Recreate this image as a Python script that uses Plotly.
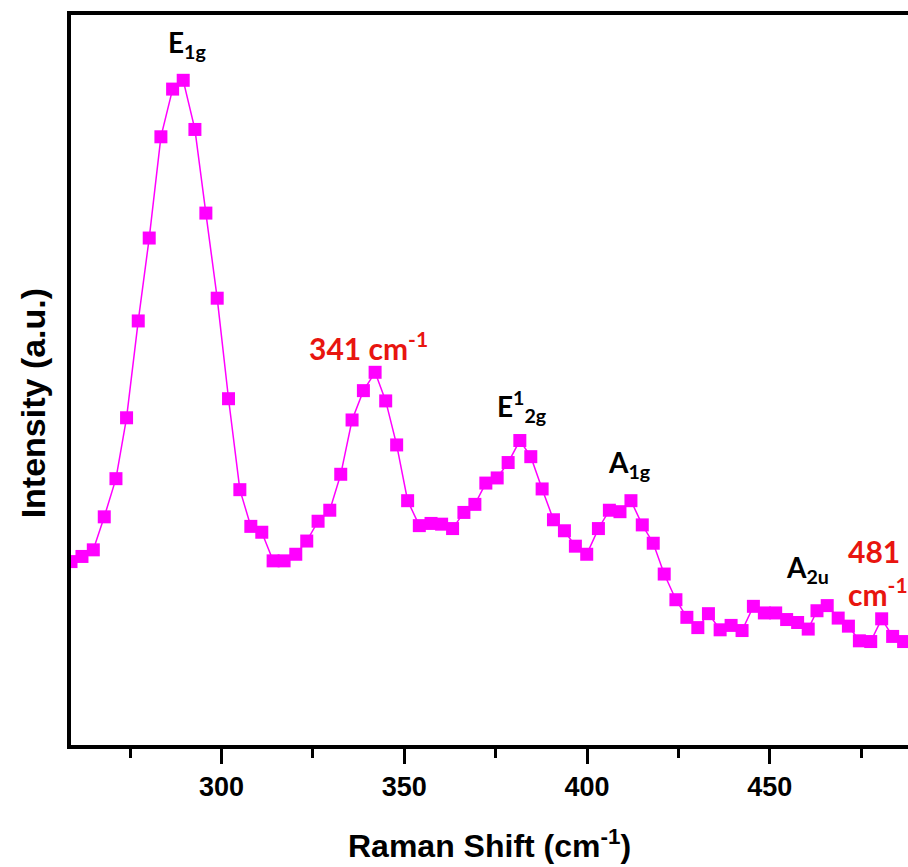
import plotly.graph_objects as go

# Raman shift (cm^-1) and intensity (a.u.)
raman_shift = [258.8, 261.8, 264.9, 267.9, 271.1, 274.0, 277.2, 280.2, 283.4, 286.6,
               289.5, 292.7, 295.7, 298.8, 301.9, 305.0, 308.0, 311.0, 314.1, 317.1,
               320.3, 323.3, 326.4, 329.6, 332.6, 335.7, 338.8, 342.0, 344.9, 347.9,
               350.9, 354.1, 357.3, 360.2, 363.2, 366.3, 369.3, 372.3, 375.4, 378.4,
               381.6, 384.6, 387.7, 390.8, 393.8, 396.8, 399.9, 403.1, 406.1, 409.0,
               412.0, 415.1, 418.1, 421.1, 424.3, 427.3, 430.3, 433.2, 436.4, 439.4,
               442.4, 445.5, 448.5, 451.6, 454.6, 457.6, 460.5, 462.9, 465.7, 468.7,
               471.5, 474.5, 477.6, 480.6, 483.6, 486.6]
intensity = [25.2, 25.9, 26.8, 31.3, 36.5, 44.8, 58.0, 69.3, 83.1, 89.6,
             90.8, 84.1, 72.7, 61.1, 47.4, 35.0, 30.0, 29.2, 25.3, 25.3,
             26.2, 28.0, 30.7, 32.2, 37.1, 44.5, 48.5, 51.0, 47.1, 41.1,
             33.5, 30.1, 30.4, 30.3, 29.7, 31.9, 33.0, 35.9, 36.6, 38.7,
             41.7, 39.5, 35.1, 30.9, 29.4, 27.3, 26.2, 29.7, 32.2, 32.0,
             33.5, 30.2, 27.7, 23.5, 20.0, 17.6, 16.2, 18.1, 15.9, 16.5,
             15.8, 19.1, 18.2, 18.2, 17.3, 16.9, 16.0, 18.5, 19.2, 17.5,
             16.4, 14.4, 14.3, 17.4, 15.0, 14.3]

x_tick_vals = [300, 350, 400, 450]
x_tick_text = ["300", "350", "400", "450"]
x_minor_vals = [275, 325, 375, 425, 475]

MAGENTA = "#FF00FF"
RED = "#E8150F"

fig = go.Figure()
fig.add_trace(go.Scatter(
    x=raman_shift, y=intensity, mode="lines+markers",
    line=dict(color=MAGENTA, width=1.5),
    marker=dict(symbol="square", size=13, color=MAGENTA, line=dict(width=0)),
    showlegend=False, cliponaxis=True,
))

axis_font = dict(family="Liberation Sans, Arial, sans-serif", size=27, color="black", weight="bold")
ann_font = dict(family="Lato, Open Sans, sans-serif", size=28, color="black", weight="bold")
red_font = dict(family="Lato, Open Sans, sans-serif", size=30, color=RED, weight="bold")

annotations = [
    dict(x=290.5, y=95.7, text="E<sub>1g</sub>", font=ann_font),
    dict(x=340.3, y=54.6, text="341 cm<sup>-1</sup>", font=red_font),
    dict(x=382.2, y=46.3, text="E<sup>1</sup><sub>2g</sub>", font=ann_font),
    dict(x=411.7, y=38.5, text="A<sub>1g</sub>", font=ann_font),
    dict(x=460.2, y=24.2, text="A<sub>2u</sub>", font=ann_font),
    dict(x=478.4, y=26.7, text="481", font=red_font),
    dict(x=479.6, y=21.0, text="cm<sup>-1</sup>", font=red_font),
]
for a in annotations:
    a.update(xref="x", yref="y", showarrow=False, xanchor="center", yanchor="middle")

annotations.append(dict(
    xref="paper", yref="paper", x=0.5, y=-0.136, showarrow=False,
    xanchor="center", yanchor="middle",
    text="Raman Shift (cm<sup>-1</sup>)",
    font=dict(family="Liberation Sans, Arial, sans-serif", size=32, color="black", weight="bold"),
))
annotations.append(dict(
    xref="paper", yref="paper", x=-0.0454, y=0.468, showarrow=False,
    xanchor="center", yanchor="middle", textangle=-90,
    text="Intensity (a.u.)",
    font=dict(family="Liberation Sans, Arial, sans-serif", size=34, color="black", weight="bold"),
))

fig.update_layout(
    width=908, height=867,
    margin=dict(l=71, r=0, t=15, b=122, pad=0),
    paper_bgcolor="white", plot_bgcolor="white",
    annotations=annotations,
    xaxis=dict(
        range=[258.8, 487.8], showgrid=False, zeroline=False,
        showline=True, linecolor="black", linewidth=4, mirror=True,
        ticks="outside", ticklen=15, tickwidth=3, tickcolor="black",
        tickvals=x_tick_vals, ticktext=x_tick_text, tickfont=axis_font,
        minor=dict(ticks="outside", ticklen=9, tickwidth=3, tickcolor="black",
                   tickvals=x_minor_vals),
    ),
    yaxis=dict(
        range=[0.2, 99.7], showgrid=False, zeroline=False,
        showline=True, linecolor="black", linewidth=4,
        showticklabels=False, ticks="",
    ),
)

fig.write_html(
    "out.html",
    config={"displayModeBar": False},
    post_script="document.body.style.margin='0';document.body.style.overflow='hidden';",
)
